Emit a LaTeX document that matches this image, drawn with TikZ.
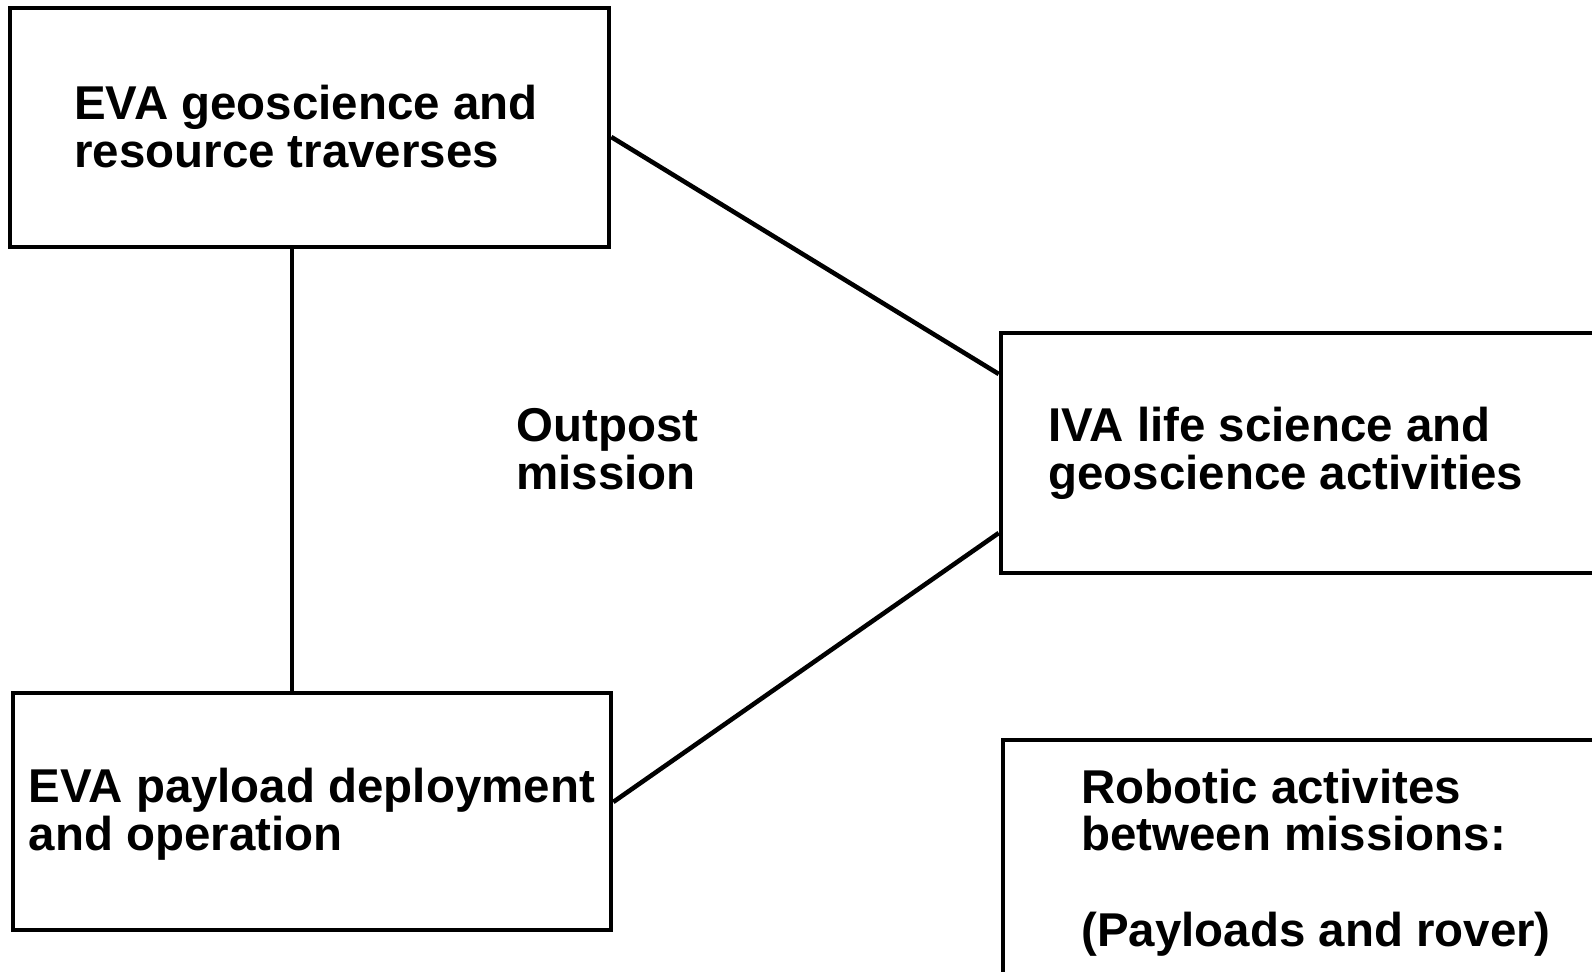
\documentclass[tikz,border=0pt]{standalone}
\usepackage{fontspec}
\setmainfont{Liberation Sans}
\begin{document}
\begin{tikzpicture}[
	activity/.style={draw=black, line width=2.6pt, solid, rectangle, inner sep=0pt},
	link/.style={draw=black, line width=2.6pt, solid},
	txt/.style={black, anchor=west, align=left, inner sep=0pt, font=\bfseries\fontsize{27.0}{27.2}\selectfont}]
	\useasboundingbox (0.00,0.00) rectangle (31.84,19.42);
	\clip (0.00,0.00) rectangle (31.84,19.42);
	\node[activity, minimum width=11.98cm, minimum height=4.78cm] (evageo) at (6.19,16.87) {};
	\node[activity, minimum width=11.96cm, minimum height=4.74cm] (evapay) at (6.24,3.19) {};
	\node[activity, minimum width=12.48cm, minimum height=4.80cm] (iva) at (26.26,10.36) {};
	\node[activity, minimum width=12.44cm, minimum height=5.12cm] (robot) at (26.28,2.06) {};
	\node[txt] (evageotxt) at (1.48,16.89) {EVA geoscience and\\resource traverses};
	\node[txt] (evapaytxt) at (0.57,3.13) {EVA payload deployment\\and operation};
	\node[txt] (outpost) at (10.32,10.43) {Outpost\\mission};
	\node[txt] (ivatxt) at (20.96,10.35) {IVA life science and\\geoscience activities};
	\node[txt] (robottxt) at (21.62,2.17) {Robotic activites\\between missions:\\[27.2pt](Payloads and rover)};
	\coordinate (vline) at (5.84,10.00);
	\draw[link] (evageo.south -| vline) -- (evapay.north -| vline);
	\draw[link] ([yshift=-0.19cm]evageo.east) -- ([yshift=1.58cm]iva.west);
	\draw[link] ([yshift=0.19cm]evapay.east) -- ([yshift=-1.60cm]iva.west);
\end{tikzpicture}
\end{document}
